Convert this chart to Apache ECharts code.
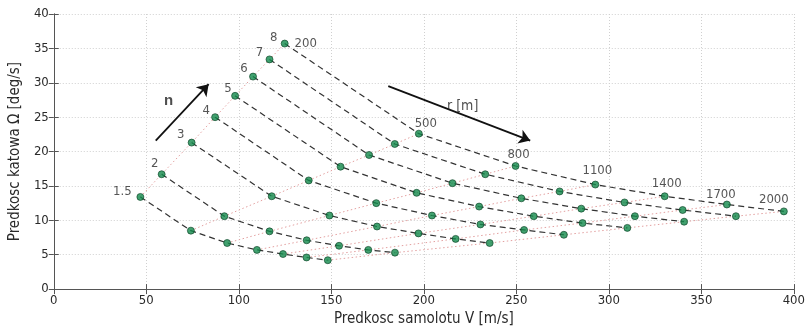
<!DOCTYPE html>
<html><head><meta charset="utf-8">
<script src="https://cdn.jsdelivr.net/npm/echarts@6/dist/echarts.min.js"></script>
<style>html,body{margin:0;padding:0;background:#fff}#c{width:808px;height:332px}</style>
</head><body><div id="c"></div>
<script>
const nLevels = ['1.5','2','3','4','5','6','7','8'];
const rLevels = ['200','500','800','1100','1400','1700','2000'];
const xTicks = [0,50,100,150,200,250,300,350,400];
const yTicks = [0,5,10,15,20,25,30,35,40];
// speed V [m/s] and turn rate [deg/s] per load factor n, ordered by r
const vN15 = [46.8, 74.1, 93.7, 109.8, 123.9, 136.6, 148.1];
const wN15 = [13.4, 8.5, 6.7, 5.7, 5.1, 4.6, 4.2];
const vN2 = [58.3, 92.2, 116.6, 136.7, 154.2, 170.0, 184.4];
const wN2 = [16.7, 10.6, 8.4, 7.1, 6.3, 5.7, 5.3];
const vN3 = [74.5, 117.8, 149.0, 174.7, 197.1, 217.2, 235.6];
const wN3 = [21.3, 13.5, 10.7, 9.1, 8.1, 7.3, 6.7];
const vN4 = [87.2, 137.8, 174.3, 204.4, 230.6, 254.2, 275.7];
const wN4 = [25.0, 15.8, 12.5, 10.7, 9.4, 8.6, 7.9];
const vN5 = [98.0, 155.0, 196.1, 229.9, 259.4, 285.8, 310.0];
const wN5 = [28.1, 17.8, 14.0, 12.0, 10.6, 9.6, 8.9];
const vN6 = [107.7, 170.4, 215.5, 252.7, 285.1, 314.1, 340.7];
const wN6 = [30.9, 19.5, 15.4, 13.2, 11.7, 10.6, 9.8];
const vN7 = [116.6, 184.3, 233.2, 273.4, 308.5, 339.9, 368.7];
const wN7 = [33.4, 21.1, 16.7, 14.2, 12.6, 11.5, 10.6];
const vN8 = [124.8, 197.3, 249.6, 292.7, 330.2, 363.8, 394.6];
const wN8 = [35.7, 22.6, 17.9, 15.2, 13.5, 12.3, 11.3];
// annotation arrows (data coords)
const nArrow = [[55.1, 21.6], [83.7, 29.8]];
const rArrow = [[180.8, 29.5], [257.5, 21.6]];
const nArrowText = [62, 27.3];
const rArrowText = [221, 26.6];

const V = [vN15, vN2, vN3, vN4, vN5, vN6, vN7, vN8];
const W = [wN15, wN2, wN3, wN4, wN5, wN6, wN7, wN8];

const font = '"DejaVu Sans Condensed","Liberation Sans",sans-serif';
const txt = '#2a2a2a';
const series = [];
// constant r lines (dotted)
rLevels.forEach((r, j) => {
  series.push({type:'line', name:'r'+r, symbol:'none', silent:true, z:1,
    lineStyle:{color:'#e3a0a0', width:1, type:[1.5,2.5]},
    data: V.map((v, i) => [v[j], W[i][j]])});
});
// constant n lines (dashed)
nLevels.forEach((n, i) => {
  series.push({type:'line', name:'n'+n, symbol:'none', silent:true, z:2,
    lineStyle:{color:'#333', width:1.2, type:[6,4]},
    data: V[i].map((v, j) => [v, W[i][j]])});
});
// points
const pts = [];
V.forEach((v, i) => v.forEach((x, j) => pts.push([x, W[i][j]])));
series.push({type:'scatter', z:5, symbolSize:7, data: pts,
  itemStyle:{color:'#128a4b', borderColor:'#0a3f22', borderWidth:0.8}});
// n labels
const nOff = [[-18,-5],[-7,-11],[-11,-8],[-9,-7],[-7,-7],[-9,-8],[-10,-7],[-11,-6]];
series.push({type:'scatter', z:6, symbolSize:1, itemStyle:{color:'transparent'},
  data: nLevels.map((n, i) => ({value:[V[i][0], W[i][0]],
    label:{show:true, formatter:n, position:'inside', offset:nOff[i], color:txt, fontSize:13, fontFamily:font}}))});
// r labels
const rOff = [[21,0],[7,-10],[3,-11],[2,-14],[2,-13],[-6,-10],[-10,-12]];
series.push({type:'scatter', z:6, symbolSize:1, itemStyle:{color:'transparent'},
  data: rLevels.map((r, j) => ({value:[vN8[j], wN8[j]],
    label:{show:true, formatter:r, position:'inside', offset:rOff[j], color:txt, fontSize:13, fontFamily:font}}))});
// arrows
series.push({type:'lines', coordinateSystem:'cartesian2d', z:4, silent:true,
  symbol:['none','arrow'], symbolSize:[0,11],
  lineStyle:{color:'#111', width:1.8, opacity:1},
  data:[{coords:nArrow},{coords:rArrow}]});
series.push({type:'scatter', z:6, symbolSize:1, itemStyle:{color:'transparent'},
  data:[{value:nArrowText, label:{show:true, formatter:'n', position:'inside', color:'#222', fontSize:15, fontWeight:'bold', fontFamily:'"Liberation Sans",sans-serif'}},
        {value:rArrowText, label:{show:true, formatter:'r [m]', position:'inside', color:'#222', fontSize:14, fontFamily:font}}]});

const axLine = {show:true, lineStyle:{color:'#555', width:1}};
const split = {show:true, lineStyle:{color:'#d0d0d0', type:[1,2], width:1}};
const opt = {
  animation:false,
  grid:{left:53, right:14, top:14, bottom:37},
  xAxis:[
    {type:'value', min:0, max:400, interval:50, position:'bottom',
     name:'Predkosc samolotu V [m/s]', nameLocation:'middle', nameGap:17,
     nameTextStyle:{color:txt, fontSize:15, fontFamily:font},
     axisLine:axLine, axisTick:{inside:true, length:5, lineStyle:{color:'#555'}},
     axisLabel:{color:txt, fontSize:13, fontFamily:font, margin:5}, splitLine:split},
    {type:'value', min:0, max:400, interval:50, position:'top',
     axisLine:axLine, axisTick:{inside:true, length:5, lineStyle:{color:'#555'}},
     axisLabel:{show:false}, splitLine:{show:false}}
  ],
  yAxis:[
    {type:'value', min:0, max:40, interval:5, position:'left',
     name:'Predkosc katowa Ω [deg/s]', nameLocation:'middle', nameGap:29,
     nameTextStyle:{color:txt, fontSize:15, fontFamily:font},
     axisLine:axLine, axisTick:{inside:true, length:5, lineStyle:{color:'#555'}},
     axisLabel:{color:txt, fontSize:13, fontFamily:font, margin:5}, splitLine:split},
    {type:'value', min:0, max:40, interval:5, position:'right',
     axisLine:axLine, axisTick:{inside:true, length:5, lineStyle:{color:'#555'}},
     axisLabel:{show:false}, splitLine:{show:false}}
  ],
  series: series
};
echarts.init(document.getElementById('c')).setOption(opt);
</script></body></html>
